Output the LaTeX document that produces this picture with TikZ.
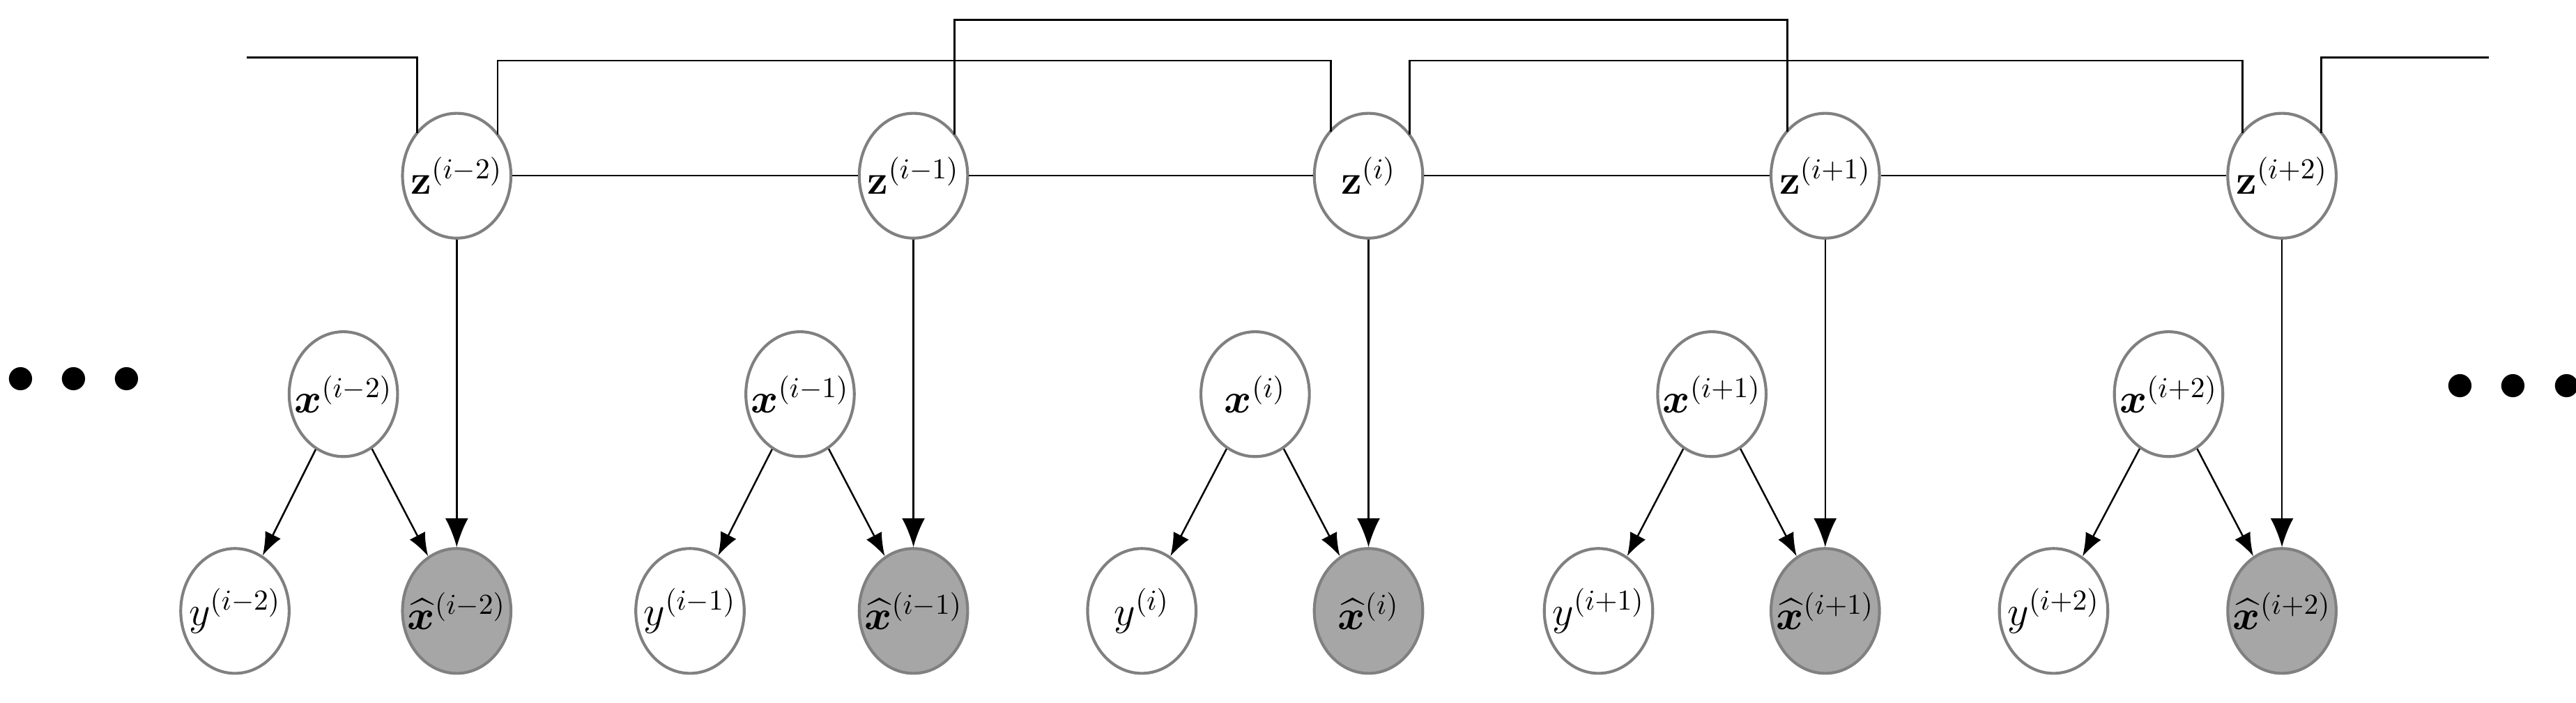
\documentclass[tikz,border=0pt]{standalone}
\usepackage{amsmath,bm}
\usetikzlibrary{shapes.geometric,calc,arrows.meta}
\begin{document}
\begin{tikzpicture}[x=0.02cm,y=0.02cm,
  nd/.style={ellipse,draw=black!50,line width=1pt,minimum width=66*0.02cm,minimum height=76*0.02cm,inner xsep=-7pt,inner ysep=0pt,font=\fontsize{14}{16}\selectfont},
  sh/.style={nd,fill=black!35},
  ln/.style={line width=0.6pt},
  ar/.style={ln,-{Latex[length=8pt,width=6pt]}},
  arz/.style={ln,-{Latex[length=10pt,width=8pt]}}]
\useasboundingbox (0,0) rectangle (1568,-428);
\foreach \i/\zx/\xx/\yx/\s in {1/278/209/143/{i-2},2/556/487/420/{i-1},3/833/764/695/{i},4/1111/1042/973/{i+1},5/1389/1320/1250/{i+2}}{
  \node[nd] (z\i) at (\zx,-107) {$\mathbf{z}^{(\s)}$};
  \node[nd] (x\i) at (\xx,-240) {$\bm{x}^{(\s)}$};
  \node[nd] (y\i) at (\yx,-372) {$y^{(\s)}$};
  \node[sh] (h\i) at (\zx,-372) {$\widehat{\bm{x}}^{(\s)}$};
  \draw[ar] (x\i) -- (y\i);
  \draw[ar] (x\i) -- (h\i);
  \draw[arz] (z\i) -- (h\i);
}
\foreach \a/\b in {1/2,2/3,3/4,4/5} \draw[ln] (z\a) -- (z\b);
\coordinate (L) at (150,-35);
\coordinate (R) at (1515,-35);
\draw[ln] (L) -| ($(z1.center)+(-24,26)$);
\draw[ln] ($(z5.center)+(24,26)$) |- (R);
\draw[ln] ($(z1.center)+(25,25)$) |- (810,-37) -- ($(z3.center)+(-23,27)$);
\draw[ln] ($(z3.center)+(25,25)$) |- (1365,-37) -- ($(z5.center)+(-24,26)$);
\draw[ln] ($(z2.center)+(25,25)$) |- (1088,-12) -- ($(z4.center)+(-23,27)$);
\node[font=\fontsize{22}{22}\selectfont] (dl) at (45,-232) {$\bullet\,\bullet\,\bullet$};
\node[font=\fontsize{22}{22}\selectfont] (dr) at (1530,-236) {$\bullet\,\bullet\,\bullet$};
\end{tikzpicture}
\end{document}
